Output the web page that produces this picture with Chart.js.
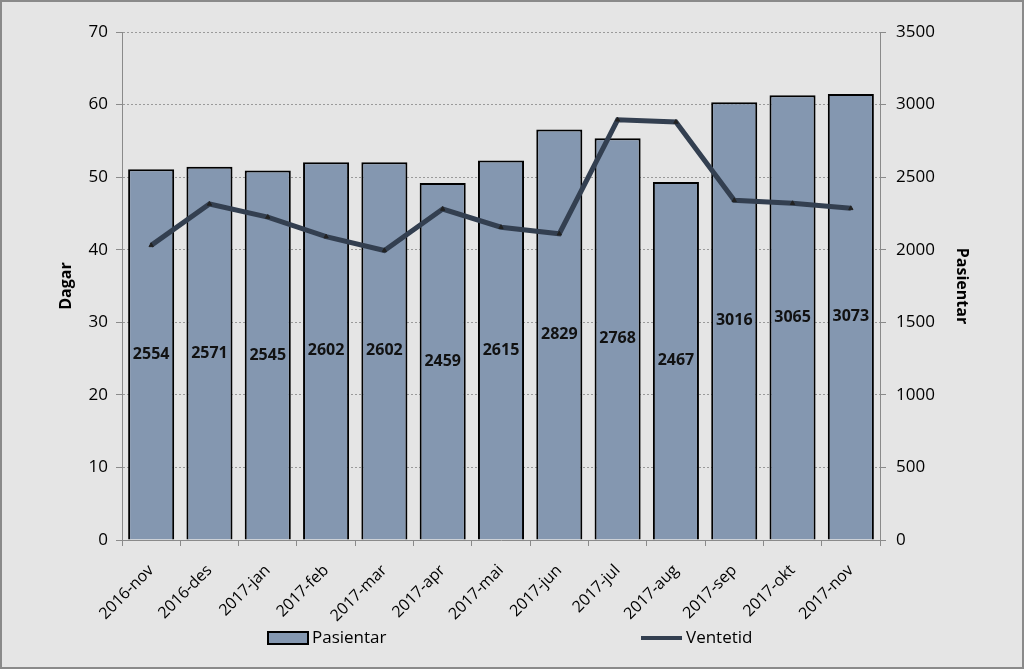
<!DOCTYPE html>
<html>
<head>
<meta charset="utf-8">
<script src="https://cdn.jsdelivr.net/npm/chart.js@4/dist/chart.umd.min.js"></script>
<style>
  html, body { margin: 0; padding: 0; background: #e5e5e5; }
  #wrap { width: 1024px; height: 669px; }
</style>
</head>
<body>
<div id="wrap"><canvas id="c" width="1024" height="669"></canvas></div>
<script>
const categories = ['2016-nov','2016-des','2017-jan','2017-feb','2017-mar','2017-apr','2017-mai','2017-jun','2017-jul','2017-aug','2017-sep','2017-okt','2017-nov'];
const pasientar = [2554, 2571, 2545, 2602, 2602, 2459, 2615, 2829, 2768, 2467, 3016, 3065, 3073];
const ventetid = [40.6, 46.3, 44.5, 41.8, 39.9, 45.6, 43.1, 42.2, 57.9, 57.6, 46.8, 46.4, 45.7];
const leftTicks = [0, 10, 20, 30, 40, 50, 60, 70];
const rightTicks = [0, 500, 1000, 1500, 2000, 2500, 3000, 3500];

const BAR_FILL = '#8497b0';
const LINE_COL = '#333f50';
const FONT = "'Open Sans', sans-serif";

const bgPlugin = {
  id: 'bg',
  beforeDraw(chart) {
    const ctx = chart.ctx;
    ctx.save();
    ctx.fillStyle = '#e5e5e5';
    ctx.fillRect(0, 0, chart.width, chart.height);
    ctx.restore();
  },
  afterDraw(chart) {
    const ctx = chart.ctx;
    ctx.save();
    ctx.strokeStyle = '#8a8a8a';
    ctx.lineWidth = 2;
    ctx.strokeRect(1, 1, chart.width - 2, chart.height - 2);
    // legend
    ctx.font = "17px " + FONT;
    ctx.textBaseline = 'middle';
    ctx.fillStyle = BAR_FILL;
    ctx.fillRect(268, 632, 40, 12);
    ctx.strokeStyle = '#000';
    ctx.lineWidth = 2;
    ctx.strokeRect(268, 632, 40, 12);
    ctx.fillStyle = '#000';
    ctx.textAlign = 'left';
    ctx.fillText(chart.data.datasets[1].label, 312, 638);
    ctx.strokeStyle = LINE_COL;
    ctx.lineWidth = 4;
    ctx.beginPath();
    ctx.moveTo(641, 638);
    ctx.lineTo(682, 638);
    ctx.stroke();
    ctx.fillText(chart.data.datasets[0].label, 686, 638);
    ctx.restore();
  }
};

const labelPlugin = {
  id: 'barLabels',
  afterDatasetsDraw(chart) {
    const meta = chart.getDatasetMeta(1);
    const ctx = chart.ctx;
    ctx.save();
    ctx.font = "bold 16px " + FONT;
    ctx.fillStyle = '#111';
    ctx.textAlign = 'center';
    ctx.textBaseline = 'middle';
    meta.data.forEach((el, i) => {
      const y = (el.y + el.base) / 2;
      ctx.fillText(String(chart.data.datasets[1].data[i]), el.x, y);
    });
    ctx.restore();
  }
};

new Chart(document.getElementById('c'), {
  type: 'bar',
  data: {
    labels: categories,
    datasets: [
      {
        type: 'line',
        label: 'Ventetid',
        data: ventetid,
        yAxisID: 'yL',
        borderColor: LINE_COL,
        backgroundColor: LINE_COL,
        borderWidth: 5,
        pointStyle: 'triangle',
        pointRadius: 2.5,
        pointBackgroundColor: '#222',
        pointBorderColor: '#222',
        pointBorderWidth: 1,
        tension: 0,
        order: 0
      },
      {
        type: 'bar',
        label: 'Pasientar',
        data: pasientar,
        yAxisID: 'yR',
        backgroundColor: BAR_FILL,
        borderColor: '#000',
        borderWidth: 2,
        categoryPercentage: 1,
        barPercentage: 0.79,
        order: 1
      }
    ]
  },
  options: {
    responsive: false,
    animation: false,
    layout: { padding: { top: 32, bottom: 0, left: 0, right: 0 } },
    plugins: {
      legend: { display: false },
      tooltip: { enabled: false }
    },
    scales: {
      x: {
        offset: true,
        grid: { offset: true, drawOnChartArea: false, drawTicks: true, tickLength: 6, color: '#8a8a8a' },
        border: { display: true, color: '#8a8a8a', width: 1 },
        ticks: { minRotation: 45, maxRotation: 45, autoSkip: false, color: '#000', font: { family: FONT, size: 16 }, padding: 15 },
        afterFit(s) { s.height = 669 - 540; }
      },
      yL: {
        position: 'left',
        min: 0, max: 70,
        afterBuildTicks(s) { s.ticks = leftTicks.map(v => ({ value: v })); },
        grid: { drawOnChartArea: true, color: '#9a9a9a', tickLength: 6, tickColor: '#8a8a8a' },
        border: { display: true, color: '#8a8a8a', dash: [2, 2] },
        ticks: { color: '#000', font: { family: FONT, size: 17 }, padding: 8, callback: v => String(v) },
        title: { display: true, text: 'Dagar', color: '#000', font: { family: FONT, size: 16, weight: 'bold' }, padding: { top: 57 } },
        afterFit(s) { s.width = 122; }
      },
      yR: {
        position: 'right',
        min: 0, max: 3500,
        afterBuildTicks(s) { s.ticks = rightTicks.map(v => ({ value: v })); },
        grid: { drawOnChartArea: false, color: '#8a8a8a', tickLength: 6 },
        border: { display: true, color: '#8a8a8a' },
        ticks: { color: '#000', font: { family: FONT, size: 17 }, padding: 10, callback: v => String(v) },
        title: { display: true, text: 'Pasientar', color: '#000', font: { family: FONT, size: 16, weight: 'bold' }, padding: { top: 53 } },
        afterFit(s) { s.width = 1024 - 880; }
      }
    }
  },
  plugins: [bgPlugin, labelPlugin]
});
</script>
</body>
</html>
